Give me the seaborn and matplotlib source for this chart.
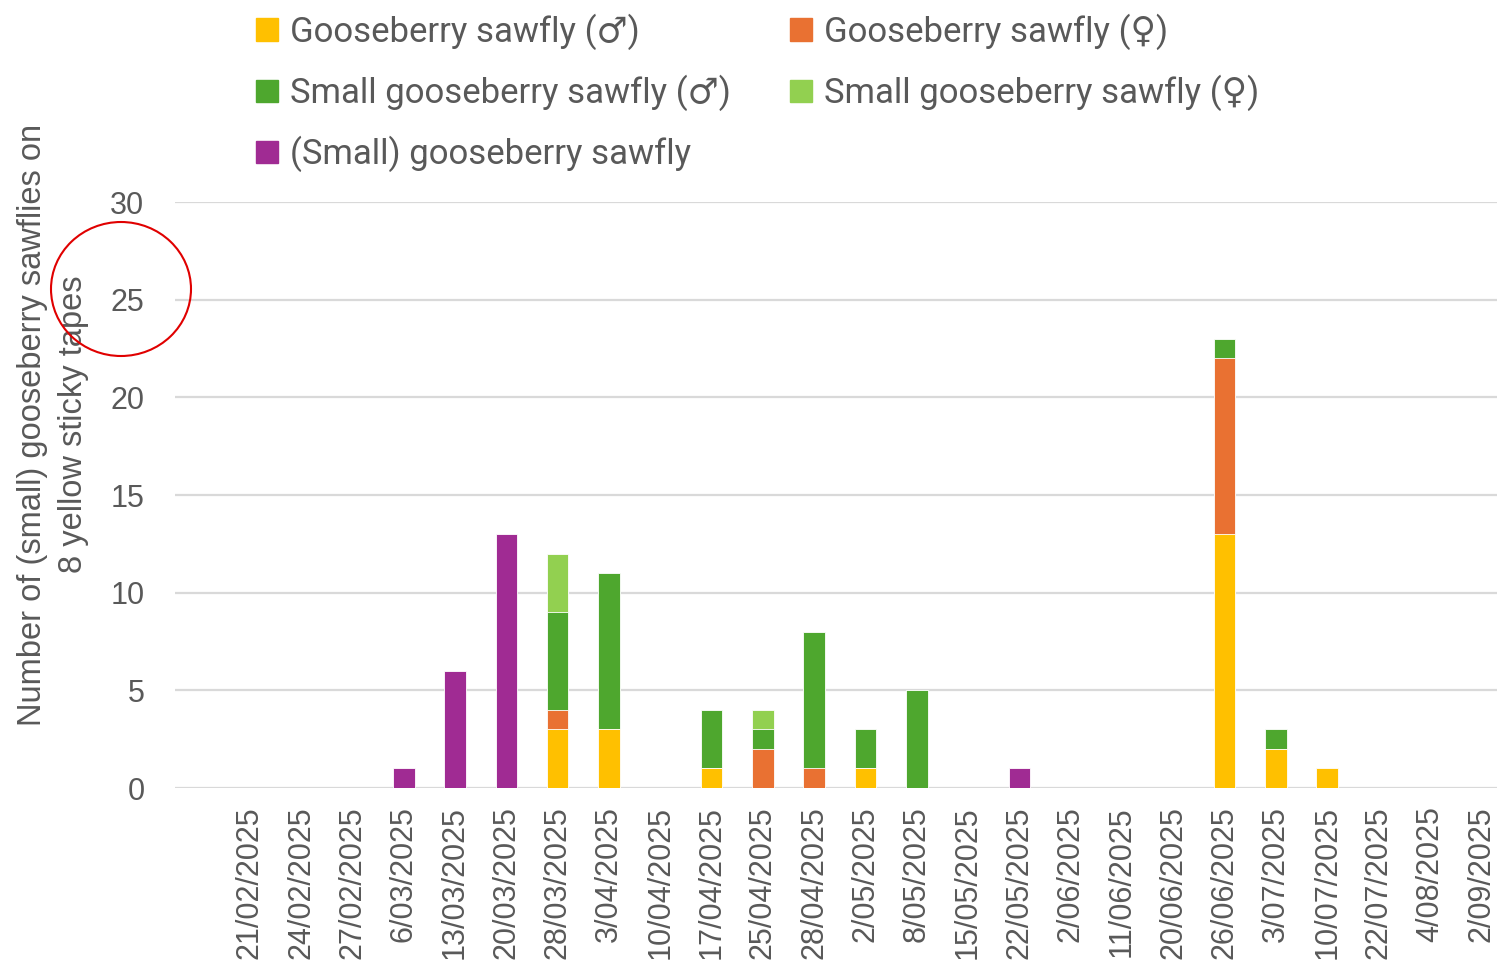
import numpy as np
import pandas as pd
import matplotlib
matplotlib.use("Agg")
import matplotlib.pyplot as plt
from matplotlib.patches import Ellipse
import seaborn as sns

dates = ["21/02/2025", "24/02/2025", "27/02/2025", "6/03/2025", "13/03/2025",
         "20/03/2025", "28/03/2025", "3/04/2025", "10/04/2025", "17/04/2025",
         "25/04/2025", "28/04/2025", "2/05/2025", "8/05/2025", "15/05/2025",
         "22/05/2025", "2/06/2025", "11/06/2025", "20/06/2025", "26/06/2025",
         "3/07/2025", "10/07/2025", "22/07/2025", "4/08/2025", "2/09/2025"]

goose_male = [0, 0, 0, 0, 0, 0, 3, 3, 0, 1, 0, 0, 1, 0, 0, 0, 0, 0, 0, 13, 2, 1, 0, 0, 0]
goose_female = [0, 0, 0, 0, 0, 0, 1, 0, 0, 0, 2, 1, 0, 0, 0, 0, 0, 0, 0, 9, 0, 0, 0, 0, 0]
small_male = [0, 0, 0, 0, 0, 0, 5, 8, 0, 3, 1, 7, 2, 5, 0, 0, 0, 0, 0, 1, 1, 0, 0, 0, 0]
small_female = [0, 0, 0, 0, 0, 0, 3, 0, 0, 0, 1, 0, 0, 0, 0, 0, 0, 0, 0, 0, 0, 0, 0, 0, 0]
small_unknown = [0, 0, 0, 1, 6, 13, 0, 0, 0, 0, 0, 0, 0, 0, 0, 1, 0, 0, 0, 0, 0, 0, 0, 0, 0]

labels = ["Gooseberry sawfly (\u2642)", "Gooseberry sawfly (\u2640)",
          "Small gooseberry sawfly (\u2642)", "Small gooseberry sawfly (\u2640)",
          "(Small) gooseberry sawfly"]
colors = ["#FFC000", "#E97132", "#4EA72E", "#92D050", "#A02B93"]
series = [goose_male, goose_female, small_male, small_female, small_unknown]

sns.set_theme(style="white")
plt.rcParams["font.family"] = ["Liberation Sans", "DejaVu Sans"]
grey = "#595959"

fig = plt.figure(figsize=(14.99, 9.63), dpi=100)
ax = fig.add_axes([0.1167, 0.1817, 0.882, 0.6085])

# stacked bars: draw cumulative totals from the top layer down
cum = np.cumsum(np.array(series), axis=0)
df = pd.DataFrame({"date": dates})
handles = []
for i in range(len(series) - 1, -1, -1):
    df["v"] = cum[i]
    sns.barplot(data=df, x="date", y="v", color=colors[i], width=0.42,
                saturation=1, edgecolor="white", linewidth=0.6, ax=ax, zorder=3)
    handles.append(plt.Rectangle((0, 0), 1, 1, color=colors[i]))
handles = handles[::-1]

ax.set_ylim(0, 30)
ax.set_xlim(-1.46, len(dates) - 0.69)
ax.set_yticks(range(0, 31, 5))
ax.yaxis.grid(True, color="#d9d9d9", linewidth=1.6, zorder=0)
ax.xaxis.grid(False)
for s in ["top", "right", "left", "bottom"]:
    ax.spines[s].set_visible(False)
ax.tick_params(axis="y", labelsize=22, colors=grey, length=0, pad=22)
ax.tick_params(axis="x", labelsize=22, colors=grey, length=0, rotation=90, pad=13)
ax.set_xlabel("")
ax.set_ylabel("Number of (small) gooseberry sawflies on\n8 yellow sticky tapes",
              fontsize=23.5, color=grey, linespacing=1.4)
ax.yaxis.set_label_coords(-0.065, 0.62)

order = [0, 2, 4, 1, 3]
fig.legend([handles[k] for k in order], [labels[k] for k in order],
           loc="upper left", bbox_to_anchor=(0.166, 0.993), ncol=2, frameon=False,
           labelcolor=grey, handlelength=0.63, handleheight=0.63,
           handletextpad=0.35, labelspacing=0.71, columnspacing=1.7,
           borderaxespad=0, borderpad=0.2,
           prop={"family": ["Roboto", "DejaVu Sans"], "size": 25})

fig.patches.append(Ellipse((121 / 1499, 1 - 289 / 963), 140 / 1499, 134 / 963,
                           transform=fig.transFigure, fill=False,
                           edgecolor="#e00000", linewidth=1.5))

fig.savefig("out.png", dpi=100, facecolor="white")
